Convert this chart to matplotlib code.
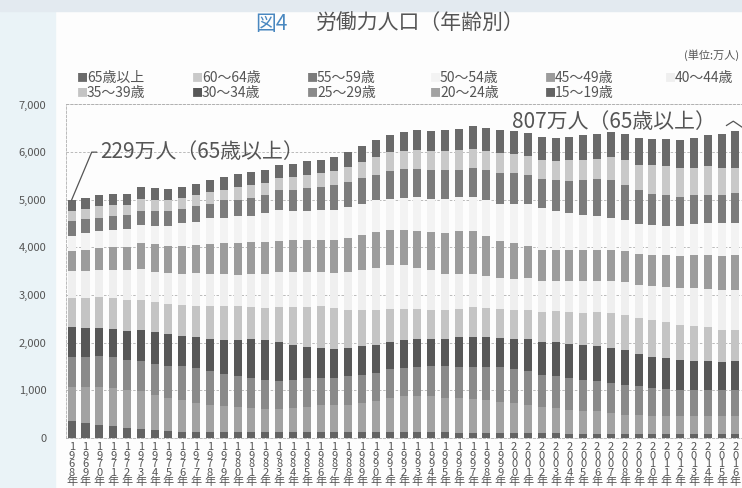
import numpy as np
import matplotlib
matplotlib.use("Agg")
import matplotlib.pyplot as plt
from matplotlib.patches import Rectangle

plt.rcParams['font.family'] = ['Noto Sans CJK JP', 'DejaVu Sans']

years = list(range(1968, 2017))

# labour force by age group (万人)
a15_19 = [360, 320, 280, 255, 210, 190, 175, 145, 135, 125, 125, 125,
          125, 125, 125, 120, 120, 120, 120, 120, 120, 120, 125, 125,
          120, 120, 120, 120, 115, 115, 115, 115, 105, 105, 100, 95,
          90, 90, 90, 90, 85, 85, 85, 85, 85, 85, 85, 85,
          85]
a20_24 = [700, 755, 790, 790, 805, 790, 735, 700, 670, 610, 575, 540,
          520, 500, 490, 480, 500, 530, 580, 580, 580, 615, 645, 715,
          755, 755, 755, 720, 720, 700, 685, 650, 630, 595, 560, 540,
          505, 470, 470, 435, 405, 405, 385, 370, 370, 370, 370, 370,
          370]
a25_29 = [645, 630, 645, 650, 615, 630, 645, 665, 700, 725, 700, 685,
          650, 635, 610, 590, 605, 610, 560, 560, 595, 595, 595, 610,
          590, 605, 630, 665, 665, 685, 700, 720, 715, 700, 665, 665,
          665, 665, 645, 630, 630, 595, 580, 575, 560, 545, 545, 545,
          560]
a30_34 = [615, 600, 600, 590, 615, 650, 665, 665, 630, 650, 685, 715,
          770, 825, 825, 825, 735, 650, 630, 610, 595, 595, 595, 565,
          590, 590, 575, 575, 610, 630, 615, 610, 630, 680, 700, 715,
          715, 735, 735, 735, 720, 685, 650, 650, 615, 615, 610, 595,
          595]
a35_39 = [615, 630, 635, 645, 645, 645, 635, 630, 650, 665, 695, 715,
          700, 665, 680, 735, 790, 840, 875, 860, 805, 770, 735, 695,
          660, 645, 600, 600, 595, 615, 610, 610, 615, 615, 630, 650,
          670, 665, 700, 735, 750, 750, 770, 750, 750, 740, 715, 680,
          665]
a40_44 = [560, 575, 580, 600, 630, 645, 635, 650, 665, 685, 670, 670,
          665, 695, 720, 730, 730, 730, 715, 735, 785, 825, 875, 930,
          910, 860, 840, 770, 740, 700, 665, 650, 645, 665, 630, 630,
          645, 665, 665, 665, 680, 700, 730, 740, 770, 790, 805, 840,
          840]
a45_49 = [420, 435, 455, 475, 485, 545, 590, 575, 575, 595, 625, 645,
          665, 665, 660, 665, 685, 685, 685, 700, 720, 750, 755, 720,
          740, 770, 800, 855, 905, 905, 855, 785, 755, 680, 665, 650,
          650, 665, 650, 650, 650, 650, 650, 680, 680, 700, 720, 715,
          735]
a50_54 = [330, 350, 365, 365, 385, 385, 380, 420, 490, 485, 545, 525,
          560, 560, 615, 650, 595, 595, 630, 630, 650, 650, 665, 660,
          680, 715, 700, 715, 700, 700, 755, 775, 825, 880, 875, 820,
          785, 735, 700, 680, 665, 630, 630, 610, 630, 650, 665, 685,
          665]
a55_59 = [315, 300, 265, 300, 285, 295, 300, 315, 295, 320, 300, 370,
          350, 370, 380, 405, 455, 490, 470, 505, 520, 540, 540, 580,
          595, 580, 615, 600, 580, 615, 615, 645, 645, 610, 610, 650,
          665, 720, 785, 790, 735, 700, 650, 630, 600, 610, 595, 595,
          630]
a60_64 = [210, 210, 245, 230, 225, 245, 230, 230, 230, 230, 240, 225,
          265, 260, 250, 260, 265, 260, 300, 300, 315, 330, 370, 400,
          385, 400, 385, 400, 420, 405, 415, 420, 405, 385, 405, 400,
          440, 435, 420, 490, 525, 540, 590, 615, 610, 560, 595, 560,
          525]
a65over = [229, 225, 230, 225, 225, 250, 250, 240, 230, 245, 250, 265,
           265, 285, 280, 265, 280, 300, 280, 300, 320, 335, 350, 370,
           405, 415, 425, 435, 435, 485, 475, 475, 470, 490, 475, 490,
           490, 510, 525, 520, 545, 560, 560, 575, 595, 630, 665, 720,
           770]

# stacking order bottom -> top
series = [a15_19, a20_24, a25_29, a30_34, a35_39, a40_44,
          a45_49, a50_54, a55_59, a60_64, a65over]
names = ['15～19歳', '20～24歳', '25～29歳', '30～34歳', '35～39歳', '40～44歳',
         '45～49歳', '50～54歳', '55～59歳', '60～64歳', '65歳以上']
colors = ['#636363', '#a2a2a2', '#8a8a8a', '#575757', '#c4c4c4', '#efefef',
          '#9c9c9c', '#f3f3f3', '#7c7c7c', '#c9c9c9', '#6a6a6a']

W, H = 742, 488
fig = plt.figure(figsize=(W / 100, H / 100), dpi=100)
fig.patch.set_facecolor('#fdfdfd')
# scan background: bluish left margin and blurred strip at the top
fig.patches.append(Rectangle((0, 0), 55 / W, 1, transform=fig.transFigure,
                             color='#eaf3f7', zorder=-5))
fig.patches.append(Rectangle((0, 1 - 11 / H), 1, 11 / H, transform=fig.transFigure,
                             color='#e3eaf0', zorder=-5))

ax = fig.add_axes([66 / W, 50 / H, (W - 66) / W, 333.5 / H])
ax.set_facecolor('none')

bottom = np.zeros(len(years))
for vals, col in zip(series, colors):
    ax.bar(years, vals, 0.58, bottom=bottom, color=col, linewidth=0, zorder=2)
    bottom += np.array(vals)

ax.set_xlim(1967.59, 2016.48)
ax.set_ylim(0, 7000)

ax.set_yticks(range(0, 7001, 1000))
ax.set_yticklabels([f'{v:,}' for v in range(0, 7001, 1000)])
ax.set_xticks(years)
ax.set_xticklabels(['\n'.join(str(y)) + '\n年' for y in years], linespacing=0.82)
ax.tick_params(axis='y', length=0, pad=14, labelsize=8, labelcolor='#555555')
ax.tick_params(axis='x', length=0, pad=3, labelsize=8, labelcolor='#555555')

ax.yaxis.grid(True, linestyle=(0, (3, 2)), color='#b0b0b0', linewidth=0.6, zorder=1)
ax.set_axisbelow(True)
ax.spines['right'].set_visible(False)
for side in ['left', 'top', 'bottom']:
    ax.spines[side].set_linestyle((0, (3, 2)))
    ax.spines[side].set_color('#b0b0b0')
    ax.spines[side].set_linewidth(0.6)

# annotations
top68 = bottom[0]
ax.plot([1968, 1969.45, 1969.8], [top68, 6000, 6000], color='#555555', lw=0.9, zorder=3)
ax.text(1970.05, 6000, '229万人（65歳以上）', fontsize=15, color='#555555',
        va='center', ha='left', zorder=4)
ax.text(1999.85, 6625, '807万人（65歳以上）', fontsize=15, color='#555555',
        va='center', ha='left', zorder=4)
ax.plot([2015.36, 2015.85, 2016.48], [6560, 6650, 6525], color='#555555', lw=0.9,
        zorder=3, clip_on=False)

# title
fig.text(255 / W, 1 - 24 / H, '図4', fontsize=15, color='#4a88c0', va='center', ha='left')
fig.text(316 / W, 1 - 24 / H, '労働力人口（年齢別）', fontsize=15, color='#555555',
         va='center', ha='left')
fig.text(739 / W, 1 - 55 / H, '(単位:万人)', fontsize=8, color='#555555', va='center', ha='right')

# legend, laid out as in the original (two rows)
leg_order = [10, 9, 8, 7, 6, 5, 4, 3, 2, 1, 0]
leg_x = [77, 192, 307, 430, 545, 665]
leg_y = [78, 93]
for k, idx in enumerate(leg_order):
    row, col = divmod(k, 6)
    x = leg_x[col] / W
    y = 1 - leg_y[row] / H
    fig.text(x, y, '■', fontsize=8, color=colors[idx], va='center', ha='left')
    fig.text(x + 10 / W, y, names[idx], fontsize=10, color='#555555', va='center', ha='left')

fig.savefig('out.png', dpi=100, facecolor=fig.get_facecolor())
